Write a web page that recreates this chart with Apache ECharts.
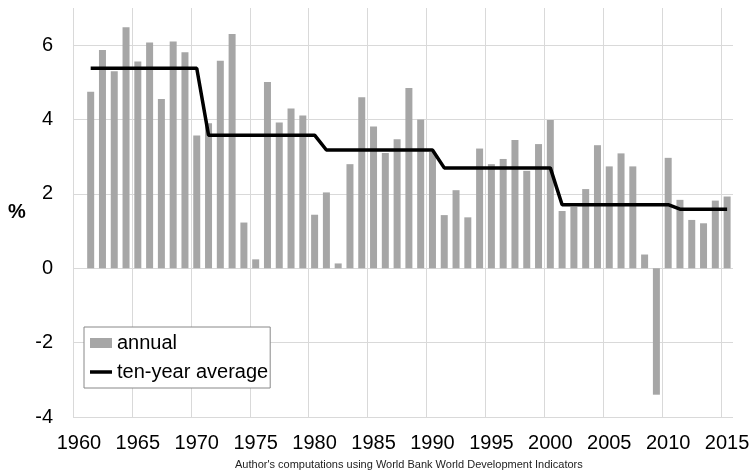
<!DOCTYPE html>
<html>
<head>
    <meta charset="UTF-8">
    <title>annual growth</title>
    <script src="https://cdn.jsdelivr.net/npm/echarts@6/dist/echarts.min.js"></script>
    <style>
        html, body {margin: 0; padding: 0; background: #fff;}
        #chart {width: 754px; height: 476px;}
    </style>
</head>
<body>
<div id="chart"></div>
<script>
    var years = ['1960', '1961', '1962', '1963', '1964', '1965', '1966', '1967', '1968', '1969',
        '1970', '1971', '1972', '1973', '1974', '1975', '1976', '1977', '1978', '1979',
        '1980', '1981', '1982', '1983', '1984', '1985', '1986', '1987', '1988', '1989',
        '1990', '1991', '1992', '1993', '1994', '1995', '1996', '1997', '1998', '1999',
        '2000', '2001', '2002', '2003', '2004', '2005', '2006', '2007', '2008', '2009',
        '2010', '2011', '2012', '2013', '2014', '2015'];

    // annual %, 1960 has no value
    var annual = [null,
        4.75, 5.87, 5.30, 6.48, 5.56, 6.07, 4.55, 6.10, 5.81, 3.57,
        3.90, 5.58, 6.30, 1.23, 0.24, 5.01, 3.92, 4.30, 4.11, 1.44,
        2.04, 0.13, 2.80, 4.60, 3.81, 3.10, 3.47, 4.85, 4.00, 3.13,
        1.43, 2.10, 1.37, 3.22, 2.80, 2.94, 3.45, 2.62, 3.34, 3.99,
        1.54, 1.65, 2.13, 3.31, 2.74, 3.09, 2.74, 0.37, -3.40, 2.97,
        1.84, 1.30, 1.21, 1.82, 1.93];

    var tenYear = [null,
        5.38, 5.38, 5.38, 5.38, 5.38, 5.38, 5.38, 5.38, 5.38, 5.38,
        3.58, 3.58, 3.58, 3.58, 3.58, 3.58, 3.58, 3.58, 3.58, 3.58,
        3.18, 3.18, 3.18, 3.18, 3.18, 3.18, 3.18, 3.18, 3.18, 3.18,
        2.70, 2.70, 2.70, 2.70, 2.70, 2.70, 2.70, 2.70, 2.70, 2.70,
        1.71, 1.71, 1.71, 1.71, 1.71, 1.71, 1.71, 1.71, 1.71, 1.71,
        1.59, 1.59, 1.59, 1.59, 1.59];

    var font = 'Liberation Sans, Arial, sans-serif';
    var gridColor = '#d9d9d9';

    var chart = echarts.init(document.getElementById('chart'));
    chart.setOption({
        animation: false,
        textStyle: {fontFamily: font},
        title: {
            text: "Author's computations using World Bank World Development Indicators",
            left: 235,
            top: 459,
            padding: 0,
            textStyle: {fontSize: 11, fontWeight: 'normal', color: '#222', fontFamily: font}
        },
        grid: {left: 73, right: 21, top: 8, bottom: 59},
        legend: {
            orient: 'vertical',
            left: 84,
            top: 327,
            padding: [6, 2, 6, 6],
            itemGap: 9,
            itemWidth: 22,
            itemHeight: 10,
            backgroundColor: '#fff',
            borderColor: '#888',
            borderWidth: 1,
            borderRadius: 0,
            textStyle: {fontSize: 20, color: '#000', fontFamily: font},
            data: [
                {name: 'annual', icon: 'rect'},
                {name: 'ten-year average', icon: 'path://M0,0H22V3.5H0Z'}
            ]
        },
        xAxis: {
            type: 'category',
            data: years,
            boundaryGap: true,
            axisLine: {show: false},
            axisTick: {show: false},
            axisLabel: {interval: 4, fontSize: 20, color: '#000', margin: 16, fontFamily: font},
            splitLine: {show: true, interval: 4, showMaxLine: false, lineStyle: {color: gridColor, width: 1}}
        },
        yAxis: {
            type: 'value',
            min: -4,
            max: 7,
            interval: 2,
            name: '%',
            nameLocation: 'middle',
            nameRotate: 0,
            nameGap: 56,
            nameTextStyle: {fontSize: 20, fontWeight: 'bold', color: '#000', fontFamily: font, align: 'center', verticalAlign: 'middle', padding: [16, 0, 0, 0]},
            axisLine: {show: false},
            axisTick: {show: false},
            axisLabel: {fontSize: 20, color: '#000', margin: 20, showMaxLabel: false, fontFamily: font},
            splitLine: {show: true, showMaxLine: false, lineStyle: {color: gridColor, width: 1}}
        },
        series: [
            {
                name: 'annual',
                type: 'bar',
                data: annual,
                barWidth: 7,
                itemStyle: {color: '#a6a6a6'}
            },
            {
                name: 'ten-year average',
                type: 'line',
                data: tenYear,
                symbol: 'none',
                lineStyle: {color: '#000', width: 3.5},
                itemStyle: {color: '#000'},
                z: 5
            }
        ]
    });
</script>
</body>
</html>
